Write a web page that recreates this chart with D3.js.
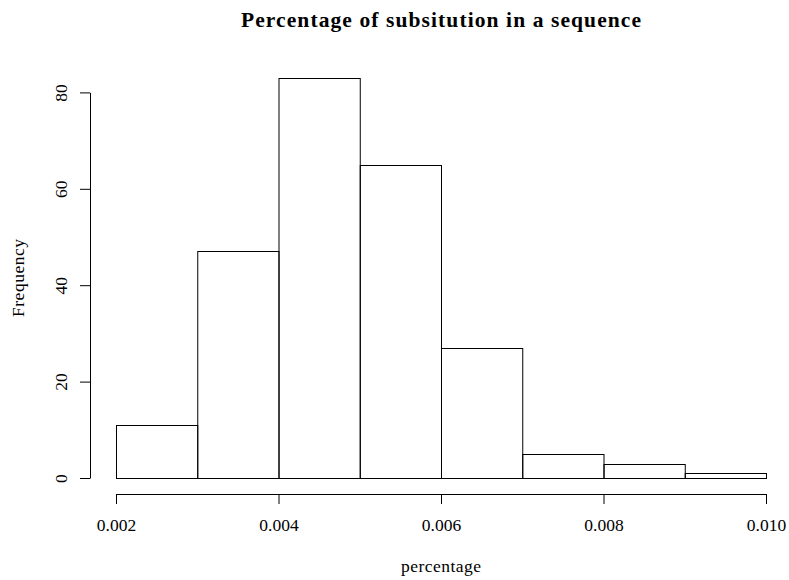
<!DOCTYPE html>
<html>
<head>
<meta charset="utf-8">
<script src="https://cdn.jsdelivr.net/npm/d3@7"></script>
<style>
  html, body { margin: 0; padding: 0; background: #fff; }
  svg { display: block; }
  text { font-family: "Liberation Serif", "DejaVu Serif", serif; fill: #000; }
</style>
</head>
<body>
<svg id="chart" width="789" height="580"></svg>
<script>
// Histogram bins (left/right edges) and counts
const binStarts = [0.002, 0.003, 0.004, 0.005, 0.006, 0.007, 0.008, 0.009];
const binEnds   = [0.003, 0.004, 0.005, 0.006, 0.007, 0.008, 0.009, 0.010];
const counts    = [11, 47, 83, 65, 27, 5, 3, 1];

const xTicks = [0.002, 0.004, 0.006, 0.008, 0.010];
const yTicks = [0, 20, 40, 60, 80];

const titleText = "Percentage of subsitution in a sequence";
const xLabel = "percentage";
const yLabel = "Frequency";

const svg = d3.select("#chart");

const x = d3.scaleLinear().domain([0.002, 0.010]).range([116, 766]);
const y = d3.scaleLinear().domain([0, 80]).range([478, 92.4]);

const plotLeft = 90, plotRight = 792, plotTop = 62, plotBottom = 494;
const cx = (plotLeft + plotRight) / 2;
const cy = (plotTop + plotBottom) / 2;

// Bars
const bins = counts.map((c, i) => ({ x0: binStarts[i], x1: binEnds[i], n: c }));
svg.append("g")
  .selectAll("rect")
  .data(bins)
  .join("rect")
  .attr("x", d => x(d.x0) + 0.5)
  .attr("y", d => Math.round(y(d.n)) + 0.5)
  .attr("width", d => x(d.x1) - x(d.x0))
  .attr("height", d => Math.round(y(0)) - Math.round(y(d.n)))
  .attr("fill", "none")
  .attr("stroke", "#000")
  .attr("stroke-width", 1);

// X axis
const xAxis = svg.append("g")
  .attr("transform", `translate(0,${plotBottom})`)
  .call(d3.axisBottom(x).tickValues(xTicks).tickFormat(d3.format(".3f")).tickSize(10).tickSizeOuter(0));
xAxis.selectAll("text")
  .attr("y", 37).attr("dy", 0)
  .style("font-size", "17.5px");

// Y axis
const yAxis = svg.append("g")
  .attr("transform", `translate(${plotLeft},0)`)
  .call(d3.axisLeft(y).tickValues(yTicks).tickSize(10).tickSizeOuter(0));
yAxis.selectAll("text")
  .attr("x", 0).attr("y", -23).attr("dy", 0)
  .attr("text-anchor", "middle")
  .attr("transform", "rotate(-90)")
  .style("font-size", "17.5px");

svg.selectAll(".domain, .tick line").attr("stroke", "#000").attr("stroke-width", 1);
svg.selectAll(".tick text").attr("fill", "#000").style("font-family", "'Liberation Serif', serif");

// Title
svg.append("text")
  .attr("x", cx).attr("y", 27)
  .attr("text-anchor", "middle")
  .attr("textLength", 400).attr("lengthAdjust", "spacing")
  .style("font-size", "21.5px").style("font-weight", "bold")
  .text(titleText);

// Axis titles
svg.append("text")
  .attr("x", cx).attr("y", 572)
  .attr("text-anchor", "middle")
  .attr("textLength", 80).attr("lengthAdjust", "spacing")
  .style("font-size", "17.5px")
  .text(xLabel);

svg.append("text")
  .attr("transform", `translate(24,${cy}) rotate(-90)`)
  .attr("text-anchor", "middle")
  .attr("textLength", 78).attr("lengthAdjust", "spacing")
  .style("font-size", "17.5px")
  .text(yLabel);
</script>
</body>
</html>
